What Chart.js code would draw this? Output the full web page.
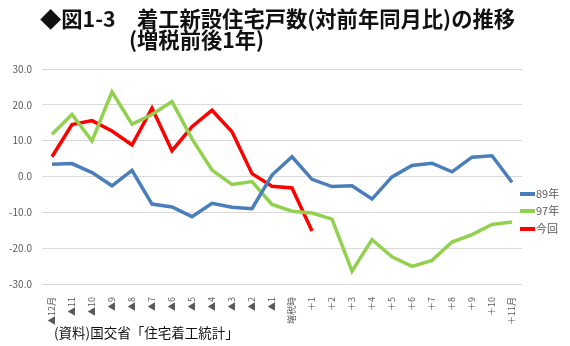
<!DOCTYPE html>
<html>
<head>
<meta charset="utf-8">
<script src="https://cdn.jsdelivr.net/npm/chart.js@4"></script>
<style>
  body { margin: 0; background: #fff; }
  #wrap { position: relative; width: 570px; height: 346px; overflow: hidden; }
  #grafikon { position: absolute; left: 0; top: 0; }
  .naslov { position: absolute; font-family: "Noto Sans CJK JP", sans-serif; font-weight: bold; font-size: 21.3px; color: #111; white-space: nowrap; line-height: 1; }
  #izvor { position: absolute; left: 54px; top: 326px; font-family: "Noto Sans CJK JP", sans-serif; font-size: 13.5px; color: #111; white-space: nowrap; line-height: 1; }
  .leg { position: absolute; left: 520px; font-family: "Noto Sans CJK JP", sans-serif; font-size: 11px; color: #595959; line-height: 1; display: flex; align-items: center; }
  .leg span.crta { display: inline-block; width: 15px; height: 4px; margin-right: 1px; }
</style>
</head>
<body>
<div id="wrap">
  <canvas id="grafikon" width="570" height="346"></canvas>
  <div class="naslov" style="left:40px; top:7px;">◆図1-3　着工新設住宅戸数(対前年同月比)の推移</div>
  <div class="naslov" style="left:129px; top:28px;">(増税前後1年)</div>
  <div id="izvor">(資料)国交省「住宅着工統計」</div>
  <div class="leg" style="top:188px;"><span class="crta" style="background:#4A7EBB"></span>89年</div>
  <div class="leg" style="top:205px;"><span class="crta" style="background:#92D050"></span>97年</div>
  <div class="leg" style="top:223px;"><span class="crta" style="background:#FF0000"></span>今回</div>
</div>
<script>
var meseci = ["▲12月", "▲11", "▲10", "▲9", "▲8", "▲7", "▲6", "▲5", "▲4", "▲3", "▲2", "▲1",
    "増税時", "＋1", "＋2", "＋3", "＋4", "＋5", "＋6", "＋7", "＋8", "＋9", "＋10", "＋11月"];

var god89 = [3.4, 3.6, 1.1, -2.6, 1.7, -7.7, -8.5, -11.2, -7.5, -8.6, -9.0, 0.4,
    5.5, -0.8, -2.8, -2.6, -6.3, -0.1, 3.1, 3.7, 1.3, 5.4, 5.8, -1.6];

var god97 = [11.8, 17.3, 9.9, 23.6, 14.6, 17.3, 20.9, 10.5, 1.8, -2.2, -1.4, -7.8,
    -9.7, -10.2, -11.9, -26.4, -17.6, -22.4, -25.1, -23.4, -18.3, -16.2, -13.4, -12.7];

var sada = [5.5, 14.5, 15.6, 12.7, 8.8, 19.1, 7.2, 13.9, 18.5, 12.5, 0.8, -2.7,
    -3.2, -15.2, null, null, null, null, null, null, null, null, null, null];

var oznake = ["89年", "97年", "今回"];
var boje = ["#4A7EBB", "#92D050", "#FF0000"];

var sivaSlova = "#595959";

new Chart("grafikon", {
    type: "line",
    data: {
        labels: meseci,
        datasets: [
            { label: oznake[0], data: god89, borderColor: boje[0], backgroundColor: boje[0] },
            { label: oznake[1], data: god97, borderColor: boje[1], backgroundColor: boje[1] },
            { label: oznake[2], data: sada, borderColor: boje[2], backgroundColor: boje[2] }
        ]
    },
    options: {
        responsive: false,
        animation: false,
        elements: {
            line: { borderWidth: 3.5, tension: 0, borderJoinStyle: "miter" },
            point: { radius: 0 }
        },
        layout: { padding: { top: 69, right: 48, left: 0, bottom: 0 } },
        plugins: {
            legend: { display: false },
            tooltip: { enabled: false }
        },
        scales: {
            x: {
                offset: true,
                grid: { display: false },
                border: { display: false },
                ticks: {
                    color: sivaSlova,
                    font: { family: "'Noto Sans CJK JP'", size: 9 },
                    minRotation: 90,
                    maxRotation: 90,
                    autoSkip: false,
                    padding: 5
                },
                afterFit: function (s) { s.height = 62; }
            },
            y: {
                min: -30,
                max: 30,
                grid: { color: "#D9D9D9", drawTicks: false },
                border: { display: false },
                ticks: {
                    stepSize: 10,
                    color: sivaSlova,
                    padding: 10,
                    font: { family: "'Noto Sans CJK JP'", size: 10 },
                    callback: function (v) { return v.toFixed(1); }
                },
                afterFit: function (s) { s.width = 42; }
            }
        }
    }
});
</script>
</body>
</html>
